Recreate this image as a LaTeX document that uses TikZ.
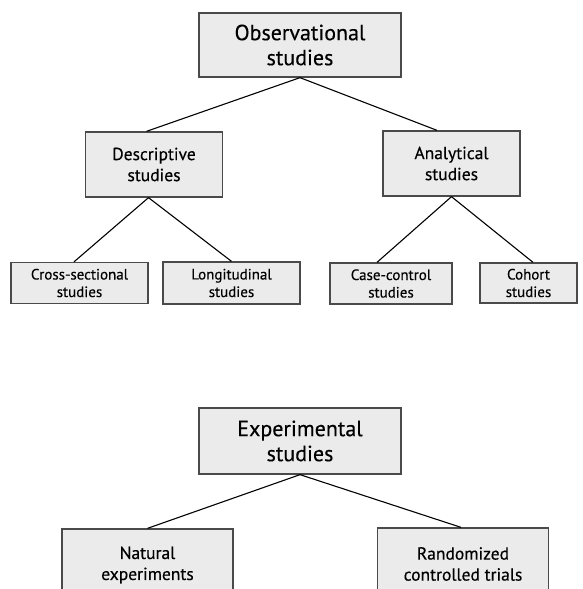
\documentclass[tikz,border=0pt]{standalone}
\usepackage{fontspec}
\setmainfont{PT Sans}[FakeBold=0.35]
\definecolor{boxfill}{HTML}{EBEBEB}
\definecolor{boxline}{HTML}{4A4A4A}
\begin{document}
\begin{tikzpicture}[x=1pt,y=-1pt,
    box/.style={draw=boxline,fill=boxfill,line width=1.3pt,inner sep=0pt,align=center},
    big/.style={box,font=\fontsize{22}{25}\selectfont},
    mid/.style={box,font=\fontsize{17.5}{21}\selectfont},
    small/.style={box,font=\fontsize{15}{17.5}\selectfont},
    link/.style={line width=1.1pt,black}]
  \path[use as bounding box,clip] (0,0) rectangle (582,589);
  \fill[white] (0,0) rectangle (582,589);
  % observational tree
  \node[big,minimum width=202pt,minimum height=64pt] (obs) at (300,45) {Observational\\studies};
  \node[mid,minimum width=137pt,minimum height=65pt] (desc) at (154,164.5) {Descriptive\\studies};
  \node[mid,minimum width=137pt,minimum height=65pt] (anal) at (451.5,163.5) {Analytical\\studies};
  \node[small,minimum width=137pt,minimum height=41pt] (cross) at (79.5,283) {Cross-sectional\\studies};
  \node[small,minimum width=137pt,minimum height=42pt] (long) at (231.5,283) {Longitudinal\\studies};
  \node[small,minimum width=122pt,minimum height=41pt] (case) at (391,283.5) {Case-control\\studies};
  \node[small,minimum width=97pt,minimum height=40pt] (coh) at (528.5,283) {Cohort\\studies};
  \draw[link] (obs.south) -- ([xshift=-7.5pt]desc.north);
  \draw[link] (obs.south) -- ([xshift=-14.5pt]anal.north);
  \draw[link] ([xshift=-5.5pt]desc.south) -- ([xshift=-5.5pt]cross.north);
  \draw[link] ([xshift=-5.5pt]desc.south) -- (long.north);
  \draw[link] (anal.south) -- ([xshift=-14pt]case.north);
  \draw[link] (anal.south) -- ([xshift=4.5pt]coh.north);
  % experimental tree
  \node[big,minimum width=202pt,minimum height=66pt] (exp) at (300,441) {Experimental\\studies};
  \node[mid,minimum width=171pt,minimum height=72pt] (nat) at (147.5,565) {Natural\\experiments};
  \node[mid,minimum width=171pt,minimum height=72pt] (rct) at (463,564) {Randomized\\controlled trials};
  \draw[link] (exp.south) -- (nat.north);
  \draw[link] (exp.south) -- ([xshift=-2pt]rct.north);
\end{tikzpicture}
\end{document}
